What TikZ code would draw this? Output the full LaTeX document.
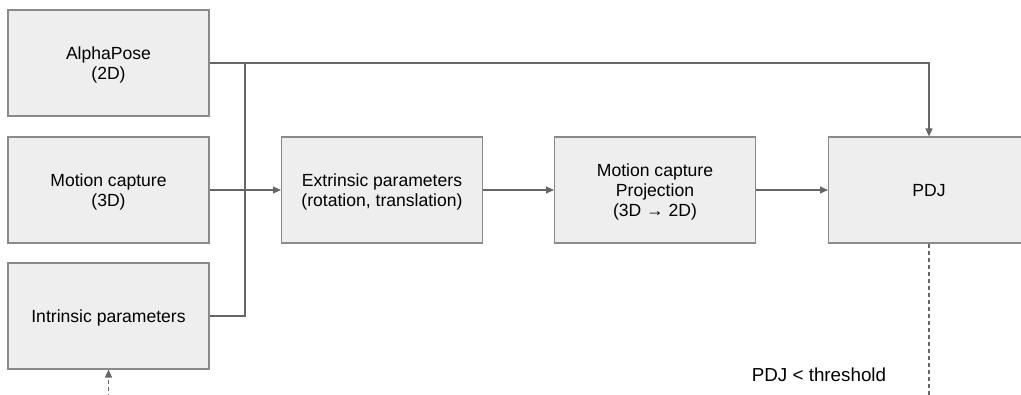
\documentclass[tikz,border=0pt]{standalone}
\usepackage{fontspec}
\setmainfont{Liberation Sans}
\usetikzlibrary{arrows.meta}
\definecolor{boxfill}{HTML}{EEEEEE}
\definecolor{boxline}{HTML}{8A8A8A}
\definecolor{wire}{HTML}{666666}
\tikzset{
  block/.style={draw=boxline, fill=boxfill, line width=0.7pt, minimum width=4.02cm, minimum height=2.12cm,
    align=center, text depth=0pt, font=\fontsize{10}{11.4}\selectfont},
  link/.style={draw=wire, line width=0.6pt},
  tip/.style={-{Triangle[length=4.5pt,width=4pt]}},
  dashlink/.style={link, dash pattern=on 2.3pt off 1.7pt}
}
\begin{document}
\begin{tikzpicture}[x=0.02cm, y=-0.02cm]
    \useasboundingbox (0,0) rectangle (1021,395);
    \node[block] (alpha) at (108.5,63) {AlphaPose\\(2D)};
    \node[block] (mocap) at (108.5,190) {Motion capture\\(3D)};
    \node[block] (intr) at (108.5,316) {Intrinsic parameters};
    \node[block] (extr) at (382,190) {Extrinsic parameters\\(rotation, translation)};
    \node[block] (proj) at (655,190) {Motion capture\\Projection\\(3D → 2D)};
    \node[block] (pdj) at (929,190) {PDJ};
    \node[font=\fontsize{10.7}{12}\selectfont] (thr) at (819,375) {PDJ < threshold};
    \coordinate (bus) at (245,63);
    \coordinate (pdjend) at (929,398);
    \coordinate (feed) at (108.5,398);
    \draw [link, tip] (alpha.east) -| (pdj.north);
    \draw [link] (bus) |- (intr.east);
    \draw [link, tip] (mocap) -- (extr);
    \draw [link, tip] (extr) -- (proj);
    \draw [link, tip] (proj) -- (pdj);
    \draw [dashlink] (pdj.south) -- (pdjend);
    \draw [dashlink, tip] (feed) -- (intr.south);
\end{tikzpicture}
\end{document}
